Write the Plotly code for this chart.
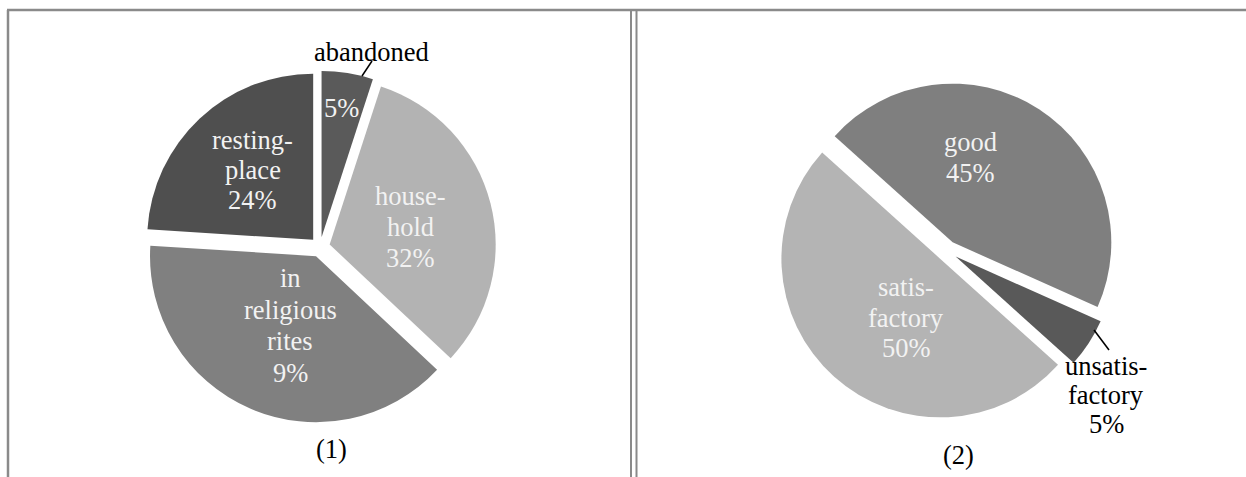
import plotly.graph_objects as go

W, H = 1246, 477
FONT = "Liberation Serif, Times New Roman, serif"
FS = 26.5

# ---- data: chart (1) ----
labels1 = ["abandoned", "household", "in religious rites", "resting-place"]
values1 = [5, 32, 39, 24]
text1 = ["5%", "house-<br>hold<br>32%", "in<br>religious<br>rites<br>9%", "resting-<br>place<br>24%"]
colors1 = ["#5a5a5a", "#b3b3b3", "#808080", "#4f4f4f"]

# ---- data: chart (2) ----
labels2 = ["good", "unsatisfactory", "satisfactory"]
values2 = [45, 5, 50]
text2 = ["good<br>45%", "unsatis-<br>factory<br>5%", "satis-<br>factory<br>50%"]
colors2 = ["#7f7f7f", "#595959", "#b4b4b4"]

captions = ["(1)", "(2)"]

# label placement (pixel centre of first line, line pitch, colour)
place1 = [(341, 108, 31, "#f2f2f2"), (410, 196, 31, "#f2f2f2"), (290, 278, 31.5, "#f2f2f2"), (253, 140, 30, "#f2f2f2")]
place2 = [(970, 142, 30.5, "#f2f2f2"), (1106, 366, 29, "black"), (906, 287, 30.5, "#f2f2f2")]


def px_x(x):
    return x / W


def px_y(y):
    return 1 - y / H


fig = go.Figure()

fig.add_trace(go.Pie(
    labels=labels1, values=values1, textinfo="none",
    sort=False, direction="clockwise", rotation=0, pull=0.06,
    marker=dict(colors=colors1, line=dict(width=0)),
    domain=dict(x=[px_x(144), px_x(496)], y=[px_y(423), px_y(71)]),
    hoverinfo="skip", showlegend=False,
))

fig.add_trace(go.Pie(
    labels=labels2, values=values2, textinfo="none",
    sort=False, direction="clockwise", rotation=-48, pull=0.065,
    marker=dict(colors=colors2, line=dict(width=0)),
    domain=dict(x=[px_x(778), px_x(1116)], y=[px_y(420), px_y(82)]),
    hoverinfo="skip", showlegend=False,
))

line_col = "#8a8a8a"
shapes = [
    dict(type="line", xref="paper", yref="paper", x0=px_x(8), x1=px_x(8), y0=px_y(10), y1=px_y(H + 5),
         line=dict(color=line_col, width=2.5)),
    dict(type="line", xref="paper", yref="paper", x0=px_x(7), x1=px_x(W + 5), y0=px_y(10), y1=px_y(10),
         line=dict(color=line_col, width=2.5)),
    dict(type="line", xref="paper", yref="paper", x0=px_x(631), x1=px_x(631), y0=px_y(10), y1=px_y(H + 5),
         line=dict(color=line_col, width=2)),
    dict(type="line", xref="paper", yref="paper", x0=px_x(636.5), x1=px_x(636.5), y0=px_y(10), y1=px_y(H + 5),
         line=dict(color=line_col, width=2)),
    # leader lines
    dict(type="line", xref="paper", yref="paper", x0=px_x(372), x1=px_x(362), y0=px_y(61), y1=px_y(76),
         line=dict(color="black", width=1.5)),
    dict(type="line", xref="paper", yref="paper", x0=px_x(1094), x1=px_x(1109), y0=px_y(330), y1=px_y(350),
         line=dict(color="black", width=1.5)),
]


def ann(text, x, y, color):
    return dict(text=text, x=px_x(x), y=px_y(y), xref="paper", yref="paper", showarrow=False,
                font=dict(family=FONT, size=FS, color=color), xanchor="center", yanchor="middle")


annotations = []
for txt, (x, y, pitch, col) in list(zip(text1, place1)) + list(zip(text2, place2)):
    for k, line in enumerate(txt.split("<br>")):
        annotations.append(ann(line, x, y + k * pitch, col))

annotations.append(ann(labels1[0], 371, 52, "black"))
annotations.append(ann(captions[0], 331, 449, "black"))
annotations.append(ann(captions[1], 958, 455, "black"))

fig.update_layout(
    width=W, height=H, margin=dict(l=0, r=0, t=0, b=0),
    paper_bgcolor="white", plot_bgcolor="white",
    shapes=shapes, annotations=annotations,
)

fig.write_html("out.html")
